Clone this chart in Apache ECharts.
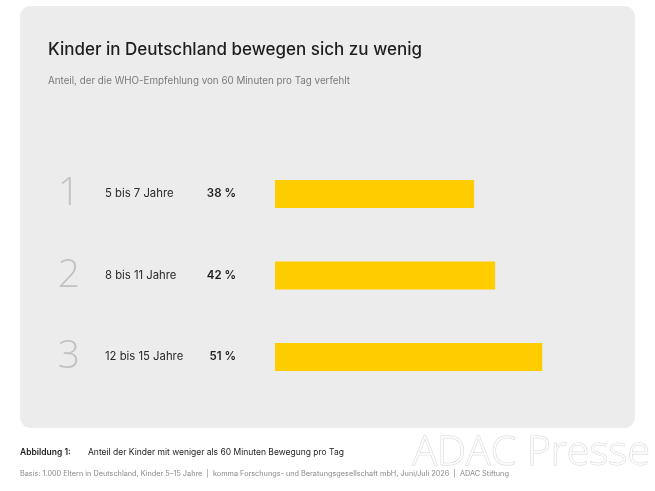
<!DOCTYPE html>
<html>
<head>
<meta charset="utf-8">
<script src="https://cdn.jsdelivr.net/npm/echarts@6/dist/echarts.min.js"></script>
<style>
html, body { margin: 0; padding: 0; background: #fff; }
#main { width: 655px; height: 491px; }
</style>
</head>
<body>
<div id="main"></div>
<script>
var ranks = ['1', '2', '3'];
var groups = ['5 bis 7 Jahre', '8 bis 11 Jahre', '12 bis 15 Jahre'];
var shares = [38, 42, 51];

var fontMain = 'Inter, "Noto Sans", sans-serif';

function draw() {
	var myChart = echarts.init(document.getElementById('main'));

	var option = {
		backgroundColor: '#ffffff',
		animation: false,
		graphic: [
			{
				type: 'rect', z: -10,
				shape: { x: 20, y: 6, width: 615, height: 422, r: 11 },
				style: { fill: '#ececec' }
			},
			{
				type: 'text', left: 48, top: 41,
				style: { text: 'Kinder in Deutschland bewegen sich zu wenig', fill: '#1e1e1e',
					font: '500 17px ' + fontMain }
			},
			{
				type: 'text', left: 48, top: 76,
				style: { text: 'Anteil, der die WHO-Empfehlung von 60 Minuten pro Tag verfehlt', fill: '#7a7a7a',
					font: '9.8px ' + fontMain }
			},
			{
				type: 'text', left: 20, top: 448,
				style: { text: 'Abbildung 1:', fill: '#1e1e1e', font: '600 8.5px ' + fontMain }
			},
			{
				type: 'text', left: 88, top: 448,
				style: { text: 'Anteil der Kinder mit weniger als 60 Minuten Bewegung pro Tag', fill: '#1e1e1e',
					font: '8.5px ' + fontMain }
			},
			{
				type: 'text', left: 20, top: 470,
				style: { text: 'Basis: 1.000 Eltern in Deutschland, Kinder 5\u201315 Jahre  |  komma Forschungs- und Beratungsgesellschaft mbH, Juni/Juli 2026  |  ADAC Stiftung',
					fill: '#8a8a8a', font: '7.3px ' + fontMain }
			},
			{
				type: 'text', left: 412, top: 432, z: 20,
				style: { text: 'ADAC Presse', fill: 'rgba(255,255,255,0.85)', stroke: '#d6d6d6', lineWidth: 1,
					font: '300 41px "Open Sans", sans-serif' }
			}
		],
		grid: { left: 275, right: 65.6, top: 153.25, bottom: 93.25 },
		xAxis: {
			type: 'value', min: 0, max: 60,
			show: false
		},
		yAxis: {
			type: 'category',
			inverse: true,
			data: groups,
			axisLine: { show: false },
			axisTick: { show: false },
			splitLine: { show: false },
			axisLabel: {
				margin: 215,
				align: 'left',
				formatter: function (value, idx) {
					return '{n|' + ranks[idx] + '}{s|}{c|' + value + '}';
				},
				rich: {
					n: { width: 18, align: 'center', fontSize: 39, fontWeight: 300, color: '#c2c2c2',
						fontFamily: '"Open Sans", sans-serif' },
					s: { width: 27 },
					c: { fontSize: 11.3, color: '#2a2a2a', fontFamily: fontMain }
				}
			}
		},
		series: [
			{
				name: 'Anteil',
				type: 'bar',
				data: shares,
				barWidth: 28,
				itemStyle: { color: '#ffcc00' },
				label: {
					show: true,
					position: 'left',
					distance: 39,
					formatter: '{c} %',
					fontSize: 11.5,
					fontWeight: 600,
					color: '#1e1e1e',
					fontFamily: fontMain
				}
			}
		]
	};
	myChart.setOption(option);
}
draw();
</script>
</body>
</html>
